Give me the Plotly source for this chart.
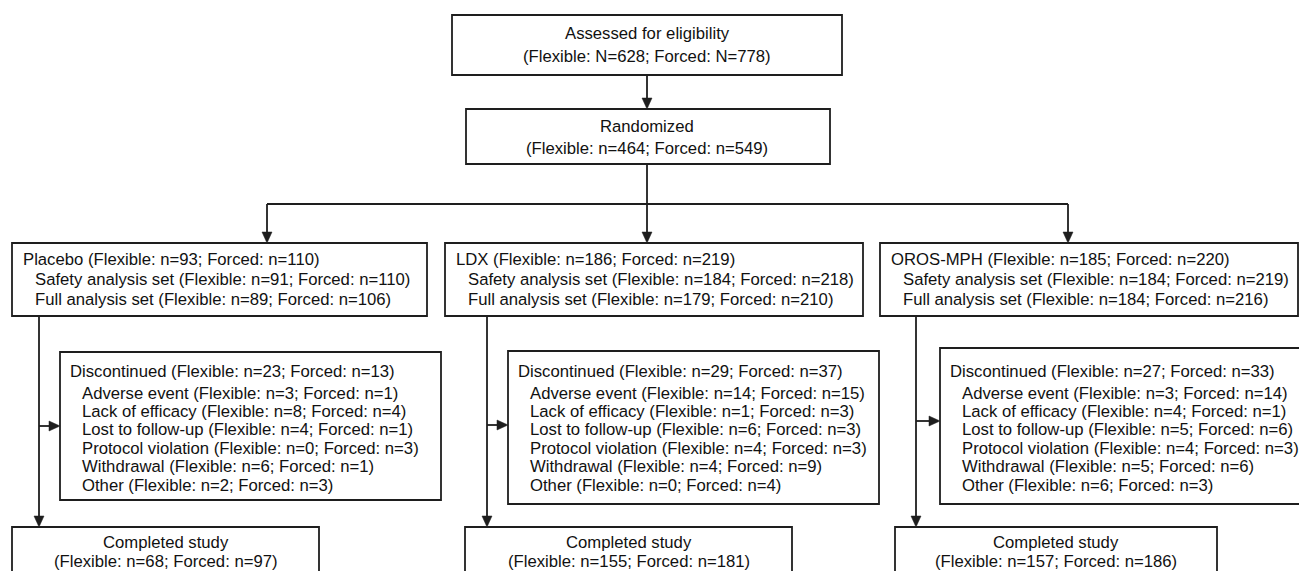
import plotly.graph_objects as go

# ---------------- data ----------------
assessed_flex, assessed_forced = 628, 778
randomized_flex, randomized_forced = 464, 549

arms = ["Placebo", "LDX", "OROS-MPH"]
arm_flex = [93, 186, 185]
arm_forced = [110, 219, 220]
safety_flex = [91, 184, 184]
safety_forced = [110, 218, 219]
full_flex = [89, 179, 184]
full_forced = [106, 210, 216]
disc_flex = [23, 29, 27]
disc_forced = [13, 37, 33]
reasons = ["Adverse event", "Lack of efficacy", "Lost to follow-up",
           "Protocol violation", "Withdrawal", "Other"]
reason_flex = [[3, 8, 4, 0, 6, 2], [14, 1, 6, 4, 4, 0], [3, 4, 5, 4, 5, 6]]
reason_forced = [[1, 4, 1, 3, 1, 3], [15, 3, 3, 3, 9, 4], [14, 1, 6, 3, 6, 3]]
completed_flex = [68, 155, 157]
completed_forced = [97, 181, 186]

# ---------------- layout geometry (pixels) ----------------
W, H = 1299, 571
LC = "#1e1e1e"
LW = 1.8
FONT = dict(family="Arial, Liberation Sans, sans-serif", size=16.7, color="#111111")

top_box = (452, 842, 15, 75)
rand_box = (466, 830, 109, 164)
center_x = 647
branch_y = 204
arm_arrow_x = [267, 647, 1068]
arm_box = [(12, 427), (445, 863), (880, 1298)]
arm_y = (243, 316)
stem_x = [39, 487, 916]
disc_box = [(60, 441, 352, 500), (508, 879, 351, 504), (940, 1320, 348, 504)]
disc_arrow_y = [426, 425, 421]
comp_box = [(12, 319), (465, 792), (895, 1217)]
comp_y = (527, 610)

shapes = []
annotations = []


def rect(x0, x1, y0, y1):
    shapes.append(dict(type="rect", x0=x0, x1=x1, y0=y0, y1=y1,
                       line=dict(color=LC, width=LW), fillcolor="white", layer="above"))


def line(x0, y0, x1, y1):
    shapes.append(dict(type="line", x0=x0, y0=y0, x1=x1, y1=y1,
                       line=dict(color=LC, width=LW), layer="above"))


def arrow_down(x, y0, y1):
    line(x, y0, x, y1 - 9)
    shapes.append(dict(type="path",
                       path=f"M {x-5},{y1-11} L {x+5},{y1-11} L {x},{y1} Z",
                       fillcolor=LC, line=dict(color=LC, width=0.5), layer="above"))


def arrow_right(x0, x1, y):
    line(x0, y, x1 - 9, y)
    shapes.append(dict(type="path",
                       path=f"M {x1-11},{y-5} L {x1-11},{y+5} L {x1},{y} Z",
                       fillcolor=LC, line=dict(color=LC, width=0.5), layer="above"))


def text(x, y, s, anchor="left"):
    annotations.append(dict(x=x, y=y, text=s, showarrow=False, xanchor=anchor,
                            yanchor="middle", font=FONT, borderpad=0))


def pair(flex, forced, sym="n"):
    return f"(Flexible: {sym}={flex}; Forced: {sym}={forced})"


# top boxes
rect(*top_box)
text(center_x, 33, "Assessed for eligibility", "center")
text(center_x, 56, pair(assessed_flex, assessed_forced, "N"), "center")
arrow_down(center_x, top_box[3], rand_box[2])
rect(*rand_box)
text(center_x, 126, "Randomized", "center")
text(center_x, 148, pair(randomized_flex, randomized_forced), "center")
line(center_x, rand_box[3], center_x, branch_y)
line(arm_arrow_x[0], branch_y, arm_arrow_x[-1], branch_y)

for i, arm in enumerate(arms):
    ax = arm_arrow_x[i]
    arrow_down(ax, branch_y, arm_y[0])
    bx0, bx1 = arm_box[i]
    rect(bx0, bx1, arm_y[0], arm_y[1])
    text(bx0 + 10, 259, f"{arm} {pair(arm_flex[i], arm_forced[i])}")
    text(bx0 + 22, 279, f"Safety analysis set {pair(safety_flex[i], safety_forced[i])}")
    text(bx0 + 22, 299, f"Full analysis set {pair(full_flex[i], full_forced[i])}")

    sx = stem_x[i]
    arrow_down(sx, arm_y[1], comp_y[0])
    dx0, dx1, dy0, dy1 = disc_box[i]
    arrow_right(sx, dx0, disc_arrow_y[i])
    rect(dx0, dx1, dy0, dy1)
    text(dx0 + 9, 371, f"Discontinued {pair(disc_flex[i], disc_forced[i])}")
    for k, r in enumerate(reasons):
        text(dx0 + 21, 393 + 18.4 * k, f"{r} {pair(reason_flex[i][k], reason_forced[i][k])}")

    cx0, cx1 = comp_box[i]
    rect(cx0, cx1, comp_y[0], comp_y[1])
    cc = (cx0 + cx1) / 2
    text(cc, 542, "Completed study", "center")
    text(cc, 561, pair(completed_flex[i], completed_forced[i]), "center")

fig = go.Figure()
fig.add_trace(go.Scatter(x=[0, W], y=[0, H], mode="markers",
                         marker=dict(opacity=0), hoverinfo="skip", showlegend=False))
fig.update_layout(
    width=W, height=H, margin=dict(l=0, r=0, t=0, b=0),
    paper_bgcolor="white", plot_bgcolor="white",
    xaxis=dict(range=[0, W], visible=False, fixedrange=True),
    yaxis=dict(range=[H, 0], visible=False, fixedrange=True),
    shapes=shapes, annotations=annotations, showlegend=False,
)
fig.write_html("out.html", config={"displayModeBar": False},
               post_script="document.body.style.margin='0';document.body.style.overflow='hidden';")
